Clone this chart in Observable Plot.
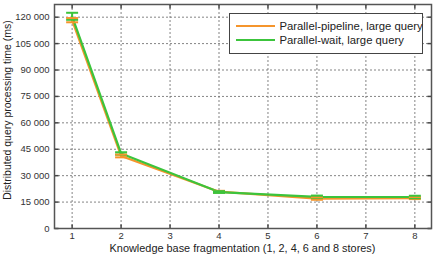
<!DOCTYPE html>
<html>
<head>
<meta charset="utf-8">
<script src="https://cdn.jsdelivr.net/npm/d3@7"></script>
<script src="https://cdn.jsdelivr.net/npm/@observablehq/plot@0.6"></script>
<style>
  body { margin: 0; background: #fff; font-family: "Liberation Sans", Arial, sans-serif; }
  #wrap { position: relative; width: 436px; height: 254px; }
  #wrap svg { position: absolute; left: 0; top: 0; }
  #legend {
    position: absolute; left: 229px; top: 13px; width: 194px; height: 41px;
    border: 1.5px solid #444; background: #fff; box-sizing: border-box;
    font-size: 11.3px; color: #222; padding-top: 4.5px; white-space: nowrap;
  }
  .row { display: flex; align-items: center; height: 14.5px; }
  .sw { width: 39px; height: 0; border-top: 2px solid; margin: 0 5px 0 5.5px; flex: none; }
  #xlabel { position: absolute; left: 54px; width: 377px; top: 242px; line-height: 12px; text-align: center; font-size: 10.9px; color: #222; }
  #ylabel { position: absolute; left: 7px; top: 110px; width: 0; height: 0; }
  #ylabel span { position: absolute; white-space: nowrap; font-size: 10.5px; color: #222;
    transform: translate(-50%, -50%) rotate(-90deg); left: 0; top: 0; }
</style>
</head>
<body>
<div id="wrap"></div>
<script>
// Number of stores the knowledge base is split into
const stores = [1, 2, 4, 6, 8];
// Mean processing time (ms) and error half-widths per strategy
const pipelineTime = [118300, 41200, 20900, 17000, 17300];
const pipelineErr  = [1200, 800, 500, 700, 600];
const waitTime     = [120500, 42600, 20700, 18000, 17900];
const waitErr      = [2000, 700, 500, 700, 700];
const seriesNames  = ["Parallel-pipeline, large query", "Parallel-wait, large query"];
const seriesColors = ["#f5952c", "#3cc43c"];
const yTicks = [0, 15000, 30000, 45000, 60000, 75000, 90000, 105000, 120000];
const xTicks = [1, 2, 3, 4, 5, 6, 7, 8];
const xLabel = "Knowledge base fragmentation (1, 2, 4, 6 and 8 stores)";
const yLabel = "Distributed query processing time (ms)";

const rows = [];
stores.forEach((s, i) => {
  rows.push({series: seriesNames[0], x: s, y: pipelineTime[i], e: pipelineErr[i]});
  rows.push({series: seriesNames[1], x: s, y: waitTime[i], e: waitErr[i]});
});

const fmt = d3.formatLocale({thousands: " ", grouping: [3], decimal: ".", currency: ["", ""]}).format(",");

// horizontal cap for the error bars
const cap = {draw(ctx, size) { const r = Math.sqrt(size / Math.PI); ctx.moveTo(-r, 0); ctx.lineTo(r, 0); }};
// short inward ticks on the four sides of the frame
const inTick = {draw(ctx, size) { const r = Math.sqrt(size / Math.PI); ctx.moveTo(0, 0); ctx.lineTo(r, 0); }};
const inTickV = {draw(ctx, size) { const r = Math.sqrt(size / Math.PI); ctx.moveTo(0, 0); ctx.lineTo(0, -r); }};
const inTickR = {draw(ctx, size) { const r = Math.sqrt(size / Math.PI); ctx.moveTo(0, 0); ctx.lineTo(-r, 0); }};
const inTickT = {draw(ctx, size) { const r = Math.sqrt(size / Math.PI); ctx.moveTo(0, 0); ctx.lineTo(0, r); }};

const xDom = [0.64, 8.34];
const yDom = [0, 127200];

const chart = Plot.plot({
  width: 436,
  height: 254,
  marginLeft: 54,
  marginRight: 5,
  marginTop: 4,
  marginBottom: 26,
  style: {fontFamily: "Liberation Sans, Arial, sans-serif", fontSize: "9.5px", color: "#333", background: "transparent"},
  x: {domain: xDom},
  y: {domain: yDom},
  color: {domain: seriesNames, range: seriesColors},
  marks: [
    Plot.gridX(xTicks, {stroke: "#777", strokeOpacity: 0.9, strokeDasharray: "2,2"}),
    Plot.gridY(yTicks, {stroke: "#777", strokeOpacity: 0.9, strokeDasharray: "2,2"}),
    Plot.axisX(xTicks, {tickSize: 0, tickPadding: 4, label: null}),
    Plot.axisY(yTicks, {tickSize: 0, tickPadding: 5, tickFormat: fmt, label: null}),
    Plot.dot(yTicks, {x: () => xDom[0], y: d => d, symbol: inTick, r: 4, stroke: "#444"}),
    Plot.dot(yTicks, {x: () => xDom[1], y: d => d, symbol: inTickR, r: 4, stroke: "#444"}),
    Plot.dot(xTicks, {x: d => d, y: () => yDom[0], symbol: inTickV, r: 4, stroke: "#444"}),
    Plot.dot(xTicks, {x: d => d, y: () => yDom[1], symbol: inTickT, r: 4, stroke: "#444"}),
    Plot.frame({stroke: "#555", strokeWidth: 1.5}),
    Plot.line(rows, {x: "x", y: "y", z: "series", stroke: "series", strokeWidth: 2.2}),
    Plot.ruleX(rows, {x: "x", y1: d => d.y - d.e, y2: d => d.y + d.e, stroke: "series", strokeWidth: 2}),
    Plot.dot(rows, {x: "x", y: d => d.y - d.e, symbol: cap, r: 6, stroke: "series", strokeWidth: 2}),
    Plot.dot(rows, {x: "x", y: d => d.y + d.e, symbol: cap, r: 6, stroke: "series", strokeWidth: 2})
  ]
});

const wrap = document.getElementById("wrap");
wrap.appendChild(chart);

const xl = document.createElement("div");
xl.id = "xlabel"; xl.textContent = xLabel; wrap.appendChild(xl);
const yl = document.createElement("div");
yl.id = "ylabel"; yl.innerHTML = "<span></span>"; yl.firstChild.textContent = yLabel; wrap.appendChild(yl);

const legend = document.createElement("div");
legend.id = "legend";
seriesNames.forEach((name, i) => {
  const row = document.createElement("div");
  row.className = "row";
  const sw = document.createElement("span");
  sw.className = "sw"; sw.style.borderTopColor = seriesColors[i];
  const t = document.createElement("span");
  t.textContent = name;
  row.appendChild(sw); row.appendChild(t);
  legend.appendChild(row);
});
wrap.appendChild(legend);
</script>
</body>
</html>
